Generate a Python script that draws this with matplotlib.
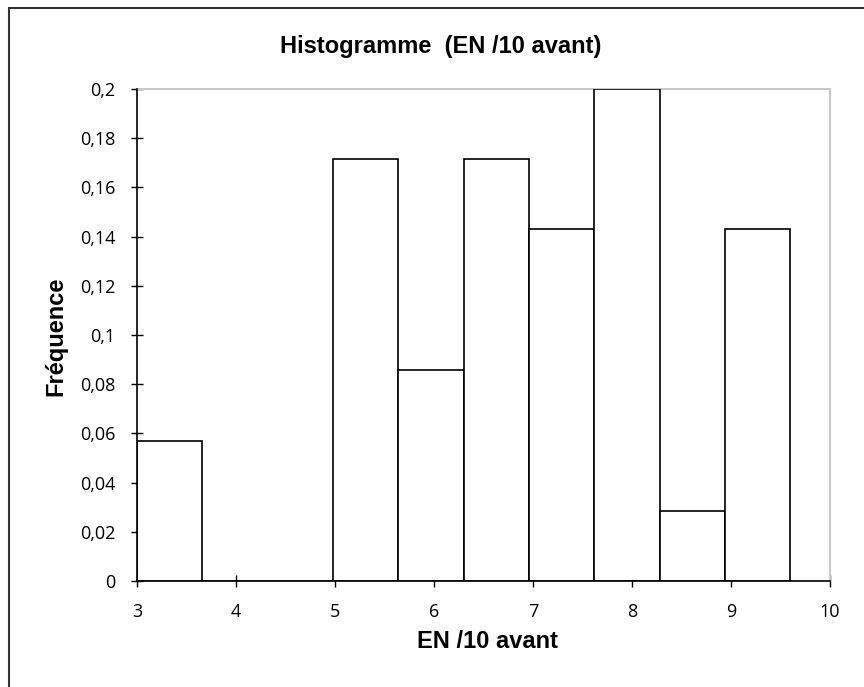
"""Histogramme (EN /10 avant) – Excel-style frequency histogram."""

import matplotlib
matplotlib.use("Agg")
import matplotlib.pyplot as plt
from matplotlib.patches import Rectangle

BIN_EDGES = [3.0, 3.66, 4.32, 4.98, 5.64, 6.30, 6.96, 7.62, 8.28, 8.94, 9.60]
FREQ      = [0.0571, 0.0, 0.0, 0.1714, 0.0857, 0.1714, 0.1429, 0.2, 0.0286, 0.1429]
X_TICKS   = [3, 4, 5, 6, 7, 8, 9, 10]
Y_TICKS   = [0, 0.02, 0.04, 0.06, 0.08, 0.1, 0.12, 0.14, 0.16, 0.18, 0.2]

TICK_FONT  = ["Open Sans", "DejaVu Sans"]
LABEL_FONT = ["Liberation Sans", "DejaVu Sans"]


def fr(v):
    return f"{v:g}".replace(".", ",")


def main():
    W, H = 864, 687
    fig = plt.figure(figsize=(W / 100, H / 100), dpi=100)
    ax = fig.add_axes([137 / W, 1 - 581 / H, (830 - 137) / W, (581 - 89) / H])

    # outer chart frame (cropped on the right and bottom)
    fig.patches.append(Rectangle((8.5 / W, -0.05), 1.2, 1 - 8 / H + 0.05,
                                 transform=fig.transFigure, fill=False,
                                 edgecolor="#333333", lw=1.5))

    widths = [b - a for a, b in zip(BIN_EDGES[:-1], BIN_EDGES[1:])]
    ax.bar(BIN_EDGES[:-1], FREQ, width=widths, align="edge",
           facecolor="white", edgecolor="black", lw=1.2, zorder=3)

    ax.set_xlim(3, 10)
    ax.set_ylim(0, 0.2)
    ax.set_xticks(X_TICKS)
    ax.set_xticklabels([str(t) for t in X_TICKS], family=TICK_FONT, fontsize=13)
    ax.set_yticks(Y_TICKS)
    ax.set_yticklabels([fr(t) for t in Y_TICKS], family=TICK_FONT, fontsize=13)
    ax.tick_params(direction="inout", length=9, width=1, colors="black")
    ax.tick_params(axis="x", pad=11)
    ax.tick_params(axis="y", pad=11)

    for side in ("top", "right"):
        ax.spines[side].set_color("#c8c8c8")
        ax.spines[side].set_linewidth(1.5)
    for side in ("left", "bottom"):
        ax.spines[side].set_color("black")
        ax.spines[side].set_linewidth(1.2)
        ax.spines[side].set_zorder(4)

    lab = dict(family=LABEL_FONT, fontsize=17, fontweight="bold",
               ha="center", va="center")
    fig.text(441 / W, 1 - 47 / H, "Histogramme  (EN /10 avant)", **lab)
    fig.text(488 / W, 1 - 642 / H, "EN /10 avant", **lab)
    fig.text(56 / W, 1 - 336 / H, "Fréquence", rotation=90, **lab)

    fig.savefig("out.png", dpi=100)


if __name__ == "__main__":
    main()
